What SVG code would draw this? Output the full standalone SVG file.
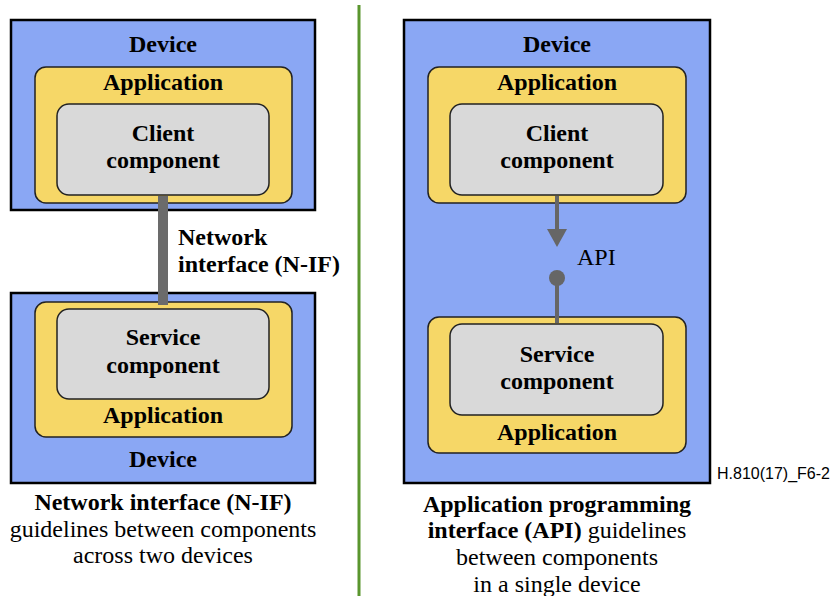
<svg xmlns="http://www.w3.org/2000/svg" width="833" height="596" viewBox="0 0 833 596">
<style>
.dev{fill:#8aa7f4;stroke:#000;stroke-width:2.5}
.app{fill:#f6d767;stroke:#222;stroke-width:1.5}
.comp{fill:#d9d9d9;stroke:#222;stroke-width:1.5}
.b{font-family:"Liberation Serif",serif;font-weight:bold;font-size:24px;text-anchor:middle;fill:#000}
.r{font-family:"Liberation Serif",serif;font-size:24px;text-anchor:middle;fill:#000}
.s{font-family:"Liberation Sans",sans-serif;font-size:16px;fill:#000}
</style>
<rect x="0" y="0" width="833" height="596" fill="#fff"/>
<line x1="359" y1="5" x2="359" y2="596" stroke="#5a962e" stroke-width="3"/>

<g id="left-device-top">
<rect class="dev" x="11" y="20" width="304" height="190"/>
<text class="b" x="163" y="52">Device</text>
</g>
<g id="left-app-top">
<rect class="app" x="35" y="67" width="257" height="136" rx="11"/>
<text class="b" x="163" y="90">Application</text>
</g>
<g id="left-client">
<rect class="comp" x="57" y="104" width="212" height="91" rx="12"/>
<text class="b" x="163" y="141">Client</text>
<text class="b" x="163" y="168">component</text>
</g>

<g id="left-device-bottom">
<rect class="dev" x="11" y="293" width="304" height="190"/>
<text class="b" x="163" y="467">Device</text>
</g>
<g id="left-app-bottom">
<rect class="app" x="35" y="302" width="257" height="135" rx="11"/>
<text class="b" x="163" y="423">Application</text>
</g>
<g id="left-service">
<rect class="comp" x="57" y="309" width="212" height="90" rx="12"/>
<text class="b" x="163" y="345">Service</text>
<text class="b" x="163" y="373">component</text>
</g>

<g id="right-device">
<rect class="dev" x="404" y="20" width="306" height="463"/>
<text class="b" x="557" y="52">Device</text>
</g>
<g id="right-app-top">
<rect class="app" x="428" y="67" width="258" height="136" rx="11"/>
<text class="b" x="557" y="90">Application</text>
</g>
<g id="right-client">
<rect class="comp" x="450" y="104" width="213" height="91" rx="12"/>
<text class="b" x="557" y="141">Client</text>
<text class="b" x="557" y="168">component</text>
</g>
<g id="right-app-bottom">
<rect class="app" x="428" y="317" width="258" height="136" rx="11"/>
<text class="b" x="557" y="440">Application</text>
</g>
<g id="right-service">
<rect class="comp" x="450" y="324" width="213" height="91" rx="12"/>
<text class="b" x="557" y="362">Service</text>
<text class="b" x="557" y="389">component</text>
</g>

<g id="connectors">
<rect x="158" y="196" width="10" height="109" fill="#6b6b6b"/>
<line x1="557" y1="196" x2="557" y2="231" stroke="#666" stroke-width="4"/>
<path d="M547,229 L567,229 L557,247 Z" fill="#666"/>
<circle cx="557" cy="278" r="8" fill="#666"/>
<line x1="557" y1="278" x2="557" y2="323" stroke="#666" stroke-width="4"/>
</g>

<g id="labels">
<text class="b" x="178" y="245" style="text-anchor:start">Network</text>
<text class="b" x="178" y="272" style="text-anchor:start">interface (N-IF)</text>
<text class="r" x="577" y="265" style="text-anchor:start">API</text>
<text class="s" x="717" y="479">H.810(17)_F6-2</text>
<text class="b" x="163" y="510">Network interface (N-IF)</text>
<text class="r" x="163" y="537">guidelines between components</text>
<text class="r" x="163" y="563">across two devices</text>
<text class="b" x="557" y="512">Application programming</text>
<text class="r" x="557" y="538"><tspan font-weight="bold">interface (API)</tspan> guidelines</text>
<text class="r" x="557" y="565">between components</text>
<text class="r" x="557" y="592">in a single device</text>
</g>
</svg>
